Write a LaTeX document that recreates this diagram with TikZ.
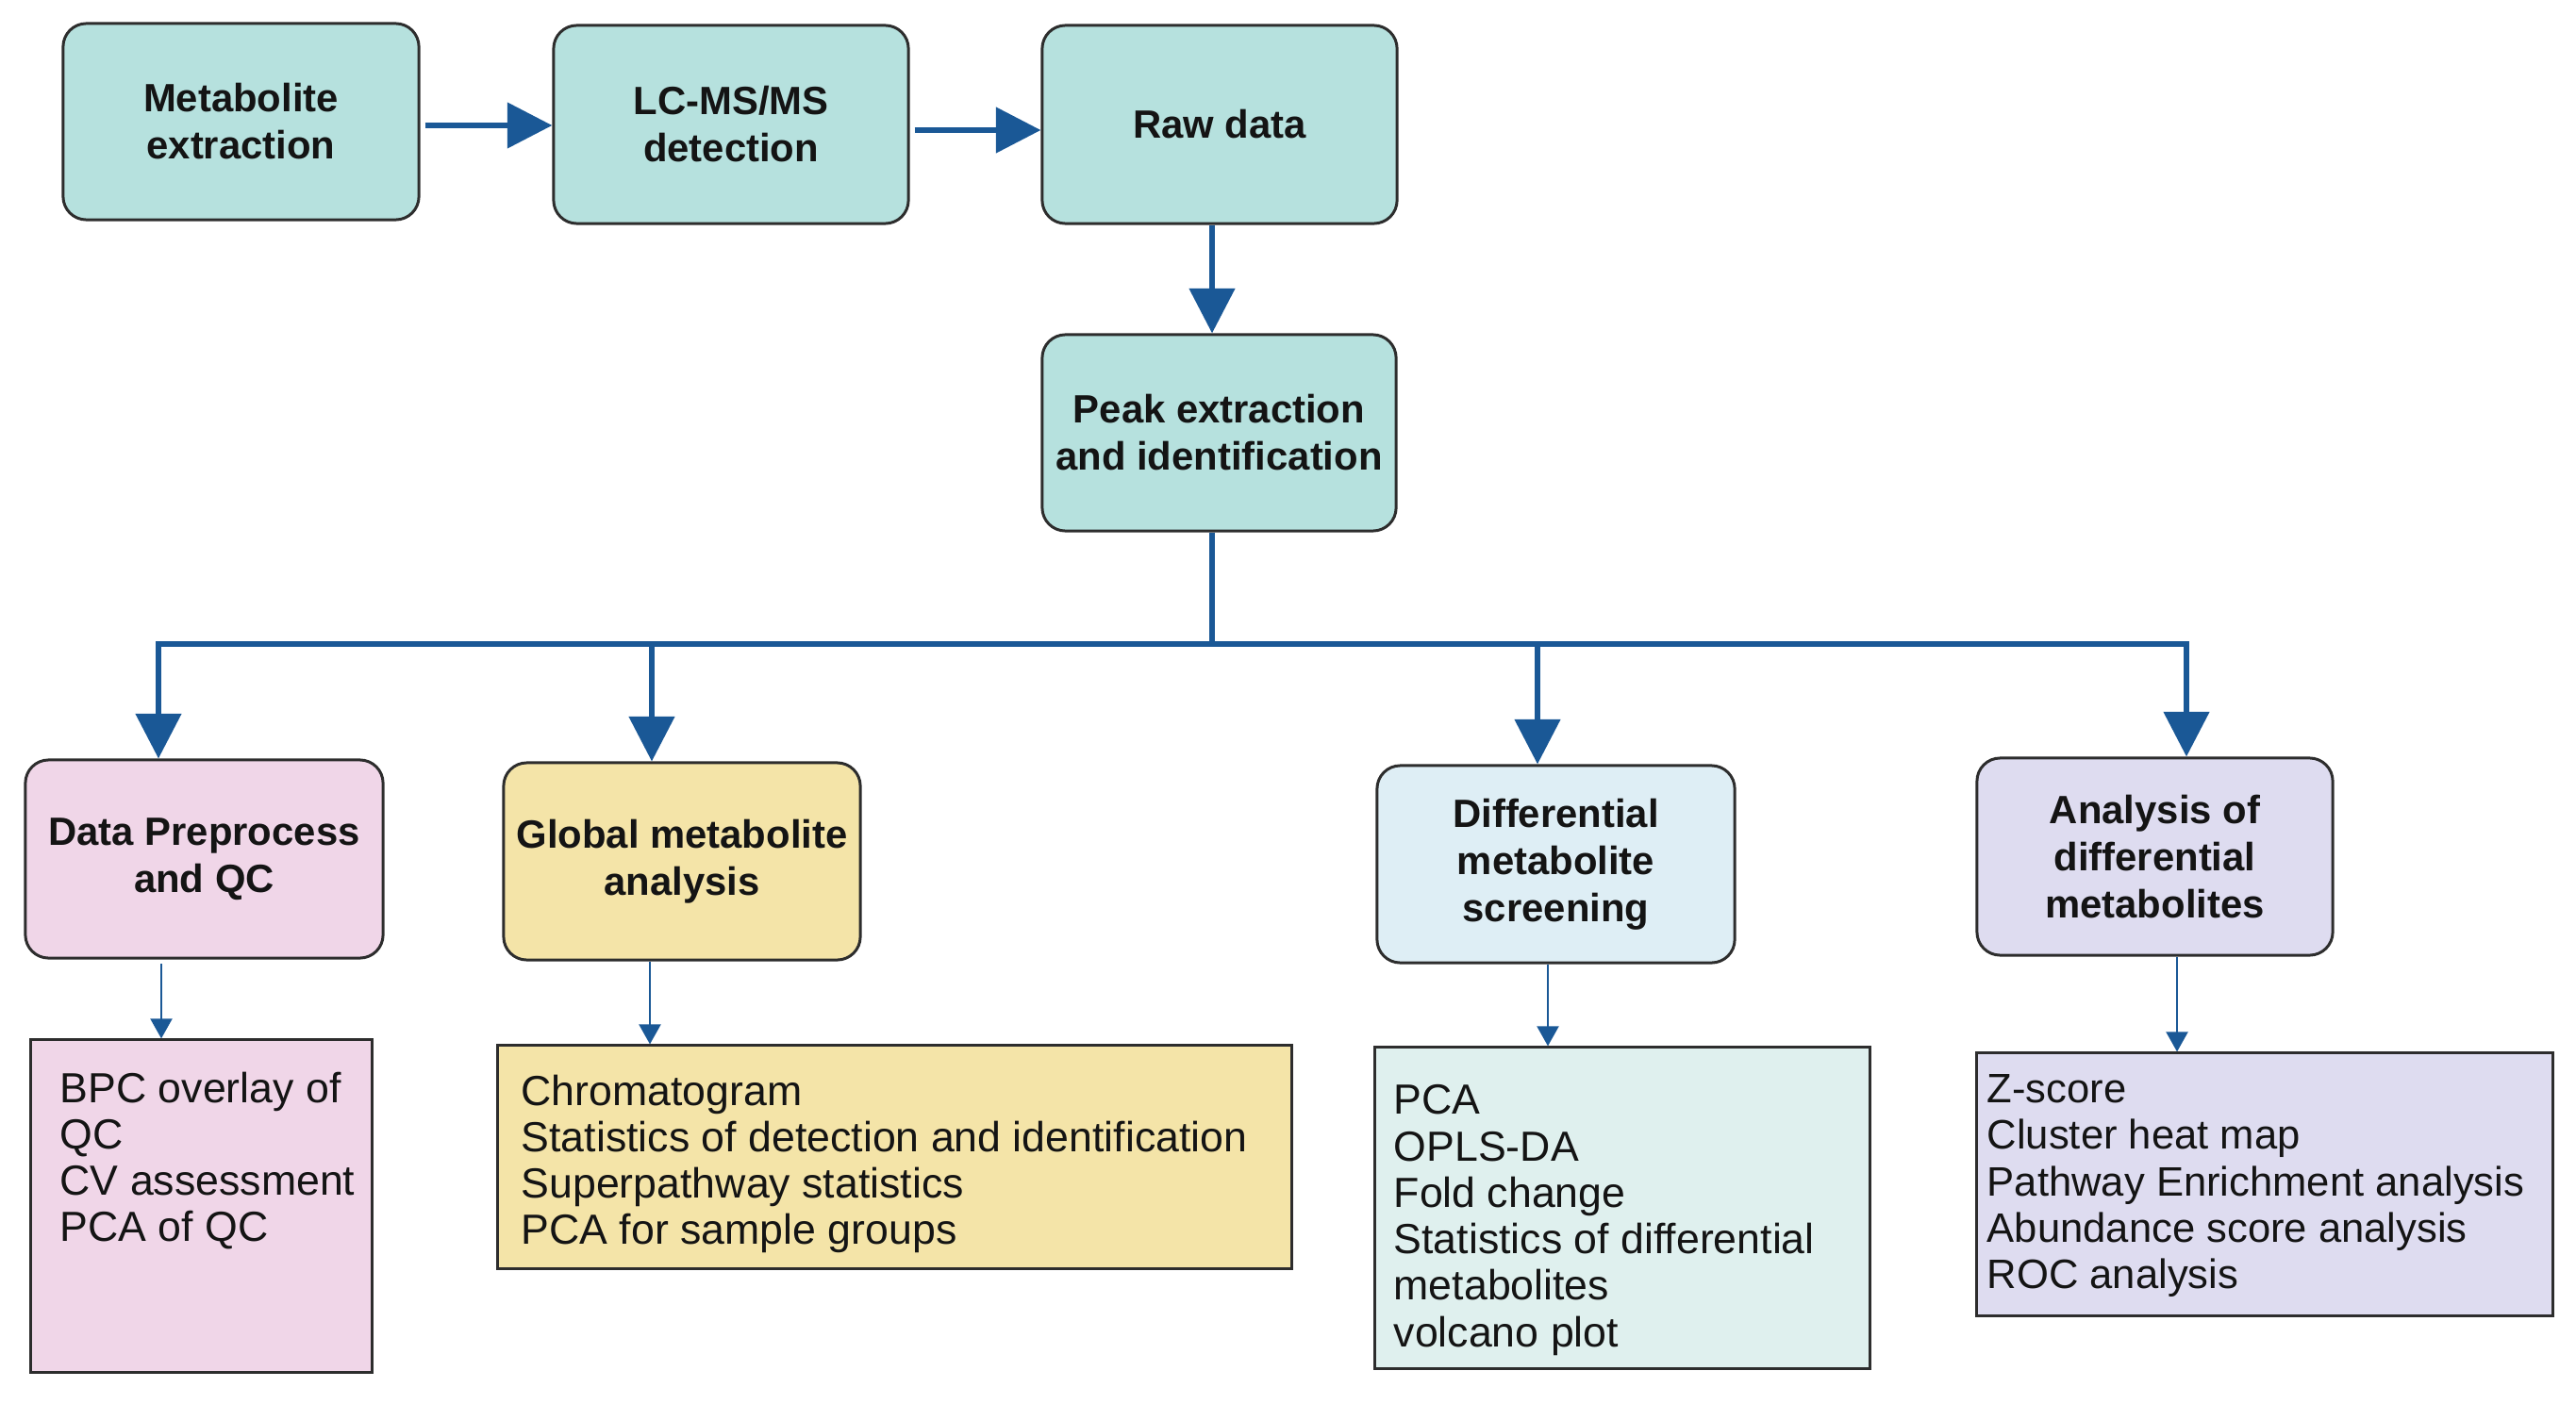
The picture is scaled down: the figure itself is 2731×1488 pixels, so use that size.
\documentclass[tikz,border=0pt]{standalone}
\usepackage{fontspec}
\setmainfont{Liberation Sans}
\usetikzlibrary{arrows.meta}
\definecolor{tealbox}{RGB}{182,225,222}
\definecolor{pinkbox}{RGB}{240,214,232}
\definecolor{yellowbox}{RGB}{244,228,168}
\definecolor{bluebox}{RGB}{222,238,245}
\definecolor{lavbox}{RGB}{222,220,240}
\definecolor{tealist}{RGB}{223,240,238}
\definecolor{arrc}{RGB}{26,88,150}
\definecolor{bordc}{RGB}{45,45,45}
\definecolor{txtc}{RGB}{20,20,20}
\begin{document}
\begin{tikzpicture}[x=0.01cm,y=-0.01cm,
  box/.style={draw=bordc, line width=0.85pt, rounded corners=7pt, align=center, inner sep=0pt,
    font=\fontsize{11.9}{14.2}\selectfont\bfseries, text=txtc},
  lbox/.style={draw=bordc, line width=0.85pt, inner sep=0pt},
  ltxt/.style={anchor=north west, inner sep=0pt, align=left,
    font=\fontsize{12.7}{14}\selectfont, text=txtc},
  bigarr/.style={draw=arrc, line width=1.7pt, -{Triangle[length=13.5pt,width=13.5pt]}},
  bigboth/.style={draw=arrc, line width=1.7pt, {Triangle[length=13.5pt,width=13.5pt]}-{Triangle[length=13.5pt,width=13.5pt]}},
  smallarr/.style={draw=arrc, line width=0.8pt, -{Triangle[length=6pt,width=6.5pt]}}]
\useasboundingbox (0,0) rectangle (2731,1488);

% top row
\node[box, fill=tealbox, minimum width=3.77cm, minimum height=2.08cm] (b1) at (255.5,129) {Metabolite\\extraction};
\node[box, fill=tealbox, minimum width=3.76cm, minimum height=2.10cm] (b2) at (775,132) {LC-MS/MS\\detection};
\node[box, fill=tealbox, minimum width=3.76cm, minimum height=2.10cm] (b3) at (1293,132) {Raw data};
\node[box, fill=tealbox, minimum width=3.75cm, minimum height=2.08cm] (b4) at (1292.5,459) {Peak extraction\\and identification};

% second row
\node[box, fill=pinkbox, minimum width=3.79cm, minimum height=2.10cm] (b5) at (216.5,911) {Data Preprocess\\and QC};
\node[box, fill=yellowbox, minimum width=3.78cm, minimum height=2.09cm] (b6) at (723,913.5) {Global metabolite\\analysis};
\node[box, fill=bluebox, minimum width=3.79cm, minimum height=2.09cm] (b9) at (1649.5,916.5) {Differential\\metabolite\\screening};
\node[box, fill=lavbox, minimum width=3.77cm, minimum height=2.09cm] (b11) at (2284.5,908.5) {Analysis of\\differential\\metabolites};

% list boxes
\node[lbox, fill=pinkbox, minimum width=3.61cm, minimum height=3.52cm] (b7) at (213.5,1279) {};
\node[lbox, fill=yellowbox, minimum width=8.41cm, minimum height=2.36cm] (b8) at (948.5,1227) {};
\node[lbox, fill=tealist, minimum width=5.24cm, minimum height=3.40cm] (b10) at (1720,1281) {};
\node[lbox, fill=lavbox, minimum width=6.10cm, minimum height=2.78cm] (b12) at (2401,1256) {};

\node[ltxt] (t7) at (63,1136) {BPC overlay of\\QC\\CV assessment\\PCA of QC};
\node[ltxt] (t8) at (552,1139) {Chromatogram\\Statistics of detection and identification\\Superpathway statistics\\PCA for sample groups};
\node[ltxt] (t10) at (1477,1150) {PCA\\OPLS-DA\\Fold change\\Statistics of differential\\metabolites\\volcano plot};
\node[ltxt, font=\fontsize{12.4}{14}\selectfont] (t12) at (2106,1139) {Z-score\\Cluster heat map\\Pathway Enrichment analysis\\Abundance score analysis\\ROC analysis};

% coordinates
\coordinate (vx) at (1285,0);
\coordinate (busL) at (168,683);
\coordinate (bus2) at (691,683);
\coordinate (bus3) at (1630,683);
\coordinate (busR) at (2318,683);
\coordinate (busC) at (1285,683);
\coordinate (s5) at (171,0);
\coordinate (s6) at (689,0);
\coordinate (s9) at (1641,0);
\coordinate (s11) at (2308,0);

% top arrows
\draw[bigarr, shorten <=1.4pt] (b1.east |- 0,133) -- (b2.west |- 0,133);
\draw[bigarr, shorten <=1.4pt] (b2.east |- 0,138) -- (b3.west |- 0,138);
\draw[bigarr] (b3.south -| vx) -- (b4.north -| vx);

% bus
\draw[draw=arrc, line width=1.7pt] (b4.south -| vx) -- (busC);
\draw[bigboth] (busL |- b5.north) -- (busL) -- (busR) -- (busR |- b11.north);
\draw[bigarr] (bus2) -- (bus2 |- b6.north);
\draw[bigarr] (bus3) -- (bus3 |- b9.north);

% small arrows
\draw[smallarr, shorten <=1.4pt] (b5.south -| s5) -- (b7.north -| s5);
\draw[smallarr] (b6.south -| s6) -- (b8.north -| s6);
\draw[smallarr] (b9.south -| s9) -- (b10.north -| s9);
\draw[smallarr] (b11.south -| s11) -- (b12.north -| s11);
\end{tikzpicture}
\end{document}
